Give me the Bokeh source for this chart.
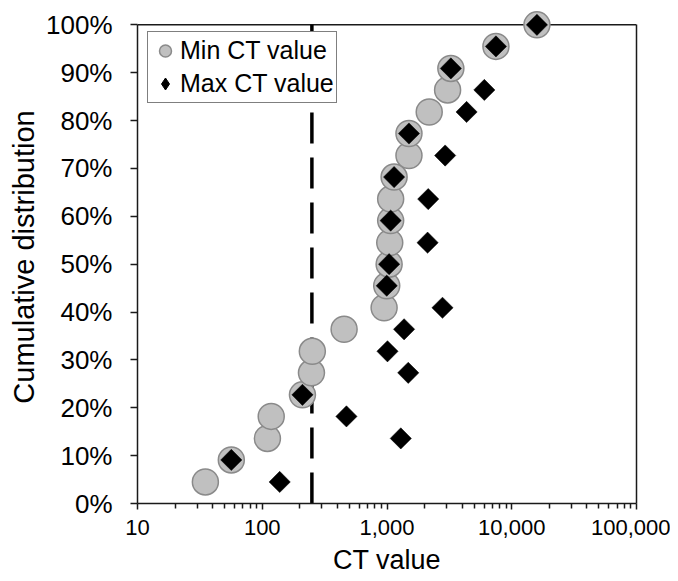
import numpy as np
from bokeh.plotting import figure
from bokeh.models import Range1d, FixedTicker, LinearAxis, Span, Legend, LegendItem
from bokeh.embed import file_html
from bokeh.resources import INLINE

# ---- data ----
cum_dist = [0.045, 0.091, 0.136, 0.182, 0.227, 0.273, 0.318, 0.364, 0.409, 0.455, 0.500,
            0.545, 0.591, 0.636, 0.682, 0.727, 0.773, 0.818, 0.864, 0.909, 0.955, 1.000]
min_ct = [35, 56.5, 110, 118, 210, 248, 252, 453, 948, 995, 1040,
          1052, 1070, 1070, 1140, 1500, 1500, 2180, 3060, 3250, 7470, 15920]
max_ct = [138, 56.5, 1290, 473, 210, 1480, 1009, 1371, 2785, 995, 1040,
          2115, 1070, 2140, 1140, 2925, 1500, 4345, 6030, 3250, 7470, 15920]
threshold = 250

x_ticks = [10, 100, 1000, 10000, 100000]
x_tick_labels = ["10", "100", "1,000", "10,000", "100,000"]
y_ticks = [0.0, 0.1, 0.2, 0.3, 0.4, 0.5, 0.6, 0.7, 0.8, 0.9, 1.0]
y_tick_labels = ["0%", "10%", "20%", "30%", "40%", "50%", "60%", "70%", "80%", "90%", "100%"]

FONT = "Liberation Sans"
AX = "#1a1a1a"

p = figure(width=670, height=578, x_axis_type="log",
           x_range=Range1d(10, 100000), y_range=Range1d(0, 1.03),
           output_backend="svg", toolbar_location=None,
           min_border_left=137, min_border_right=34,
           min_border_top=10, min_border_bottom=75)
p.grid.visible = False
p.outline_line_color = None
p.background_fill_color = "white"
p.border_fill_color = "white"

# threshold dashed line (behind markers)
p.segment(x0=[threshold], y0=[y_ticks[0]], x1=[threshold], y1=[y_ticks[-1]],
          line_color="black", line_width=3.5, line_dash="31 14")

# top border line at 100%
p.add_layout(Span(location=y_ticks[-1], dimension="width", line_color=AX,
                  line_width=1.5, level="underlay"))

r_min = p.scatter(min_ct, cum_dist, marker="circle", size=26, fill_color="#c0c0c0",
                  line_color="#8a8a8a", line_width=1.5)
r_max = p.scatter(max_ct, cum_dist, marker="square", size=15, angle=0.785398,
                  fill_color="black", line_color="black", line_width=0.5)
# legend-only glyph for the diamond (legend ignores marker angle); NaN point is not drawn
r_max_leg = p.scatter(x=np.array([np.nan]), y=np.array([np.nan]), marker="diamond", size=15,
                      fill_color="black", line_color="black", line_width=1)

# x axis
xa = p.xaxis[0]
xa.ticker = FixedTicker(ticks=x_ticks,
                        minor_ticks=[m * d for d in x_ticks[:-1] for m in range(2, 10)])
xa.major_label_overrides = {t: l for t, l in zip(x_ticks, x_tick_labels)}
xa.axis_label = "CT value"
xa.major_label_text_font_size = "22px"
xa.axis_label_text_font_size = "27px"
xa.major_label_standoff = 10
xa.axis_label_standoff = 7
xa.major_tick_out = 6
xa.major_tick_in = 0
xa.minor_tick_out = 5
xa.minor_tick_in = 0

# y axis
ya = p.yaxis[0]
ya.ticker = FixedTicker(ticks=y_ticks, minor_ticks=[])
ya.major_label_overrides = {t: l for t, l in zip(y_ticks, y_tick_labels)}
ya.bounds = (y_ticks[0], y_ticks[-1])
ya.axis_label = "Cumulative distribution"
ya.major_label_text_font_size = "26px"
ya.axis_label_text_font_size = "29px"
ya.major_label_standoff = 18
ya.axis_label_standoff = 3
ya.major_tick_out = 7
ya.major_tick_in = 0

for ax in (xa, ya):
    ax.axis_line_color = AX
    ax.axis_line_width = 1.5
    ax.major_tick_line_color = AX
    ax.major_tick_line_width = 1.5
    ax.minor_tick_line_color = AX
    ax.minor_tick_line_width = 1.5
    ax.major_label_text_font = FONT
    ax.axis_label_text_font = FONT
    ax.axis_label_text_font_style = "normal"
    ax.major_label_text_color = "black"
    ax.axis_label_text_color = "black"

# right border as an axis without ticks
ra = LinearAxis(bounds=(y_ticks[0], y_ticks[-1]), ticker=FixedTicker(ticks=[]),
                major_label_text_font_size="0px", major_tick_line_color=None,
                minor_tick_line_color=None, axis_line_color=AX, axis_line_width=1.5)
p.add_layout(ra, "right")

lg = Legend(items=[LegendItem(label="Min CT value", renderers=[r_min]),
                   LegendItem(label="Max CT value", renderers=[r_max_leg])],
            location=(10, 400), margin=0, padding=2, spacing=0,
            glyph_width=30, glyph_height=33, label_height=33, label_standoff=0,
            label_text_font=FONT, label_text_font_size="25px", label_text_color="black",
            border_line_color="black", border_line_width=1.2,
            background_fill_alpha=1.0)
p.add_layout(lg, "center")

open("out.html", "w").write(file_html(p, INLINE))
